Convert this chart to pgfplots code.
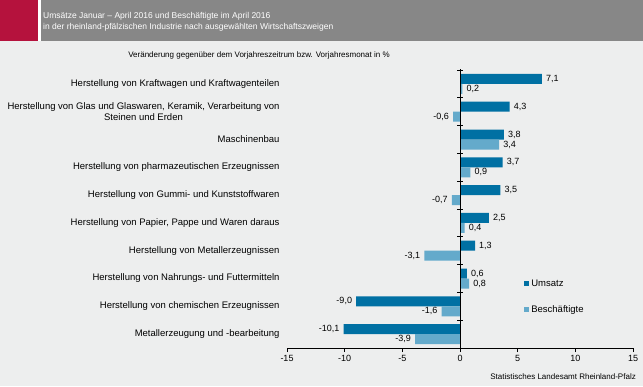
\documentclass[border=0pt]{standalone}
\usepackage{fontspec}
\setmainfont{Liberation Sans}
\usepackage{pgfplots}
\pgfplotsset{compat=1.18}
\definecolor{dblue}{HTML}{0070A3}
\definecolor{lblue}{HTML}{64AACB}
\definecolor{bg}{HTML}{EDEEEE}
\definecolor{hgray}{HTML}{878787}
\definecolor{hred}{HTML}{B5123D}
\begin{document}
\begin{tikzpicture}[x=1bp,y=1bp,font=\fontsize{8bp}{9.6bp}\selectfont]
\useasboundingbox (0,0) rectangle (643,386);
\fill[bg] (0,0) rectangle (643,386);
\fill[white] (38,345) rectangle (41,386);
\fill[hred] (0,345) rectangle (38,386);
\fill[hgray] (41,345) rectangle (643,386);
\node[anchor=base west, text=white, inner sep=0, font=\fontsize{8.5bp}{10bp}\selectfont] at (43,367.5) {Umsätze Januar – April 2016 und Beschäftigte im April 2016};
\node[anchor=base west, text=white, inner sep=0, font=\fontsize{8.5bp}{10bp}\selectfont] at (43,356.5) {in der rheinland-pfälzischen Industrie nach ausgewählten Wirtschaftszweigen};
\node[anchor=base, inner sep=0] at (259,328.5) {Veränderung gegenüber dem Vorjahreszeitrum bzw. Vorjahresmonat in \%};
\node[anchor=base east, inner sep=0, font=\fontsize{8bp}{9bp}\selectfont] at (636,7) {Statistisches Landesamt Rheinland-Pfalz};
\begin{axis}[
  at={(287bp,38bp)}, anchor=south west,
  scale only axis, width=346bp, height=278bp,
  xmin=-15, xmax=15, ymin=-0.5, ymax=9.5,
  axis lines*=left,
  y axis line style={draw=none},
  x axis line style={black, line width=0.8bp},
  xtick={-15,-10,...,15},
  tick align=outside,
  major tick length=4bp,
  xtick style={black, line width=0.8bp},
  ytick={0,...,9},
  ytick style={draw=none},
  yticklabels={Metallerzeugung und -bearbeitung,
    Herstellung von chemischen Erzeugnissen,
    Herstellung von Nahrungs- und Futtermitteln,
    Herstellung von Metallerzeugnissen,
    {Herstellung von Papier, Pappe und Waren daraus},
    Herstellung von Gummi- und Kunststoffwaren,
    Herstellung von pharmazeutischen Erzeugnissen,
    Maschinenbau,
    {Herstellung von Glas und Glaswaren, Keramik, Verarbeitung von\\Steinen und Erden},
    Herstellung von Kraftwagen und Kraftwagenteilen},
  yticklabel style={align=center, font=\fontsize{9.5bp}{11.8bp}\selectfont},
  xticklabel style={font=\fontsize{9bp}{10bp}\selectfont},
  /pgf/number format/assume math mode=true,
  clip=false,
  legend style={draw=none, fill=none, at={(axis cs:5.3,2.11)}, anchor=north west,
    font=\fontsize{9.5bp}{11bp}\selectfont, row sep=14bp},
  legend cell align=left,
  nodes near coords={\pgfmathprintnumber[fixed,fixed zerofill,precision=1,use comma,assume math mode=true]{\pgfplotspointmeta}},
  nodes near coords style={font=\fontsize{9bp}{10bp}\selectfont, text=black, inner sep=4bp},
]
\addplot[xbar, bar width=10bp, bar shift=5bp, fill=dblue, draw=none, point meta=x,
  nodes near coords style={anchor=west, yshift=5bp},
  legend image code/.code={\fill[dblue] (0bp,-2.5bp) rectangle (5bp,2.5bp);}]
  coordinates {(7.1,9) (4.3,8) (3.8,7) (3.7,6) (3.5,5) (2.5,4) (1.3,3) (0.6,2)};
\addlegendentry{Umsatz}
\addplot[xbar, bar width=10bp, bar shift=5bp, fill=dblue, draw=none, point meta=x, forget plot,
  nodes near coords style={anchor=east, yshift=5bp}]
  coordinates {(-9.0,1) (-10.1,0)};
\addplot[xbar, bar width=10bp, bar shift=-5bp, fill=lblue, draw=none, point meta=x,
  nodes near coords style={anchor=west, yshift=-5bp},
  legend image code/.code={\fill[lblue] (0bp,-2.5bp) rectangle (5bp,2.5bp);}]
  coordinates {(0.2,9) (3.4,7) (0.9,6) (0.4,4) (0.8,2)};
\addlegendentry{Beschäftigte}
\addplot[xbar, bar width=10bp, bar shift=-5bp, fill=lblue, draw=none, point meta=x, forget plot,
  nodes near coords style={anchor=east, yshift=-5bp}]
  coordinates {(-0.6,8) (-0.7,5) (-3.1,3) (-1.6,1) (-3.9,0)};
\draw[black, line width=0.8bp] (axis cs:0,-0.5) -- (axis cs:0,9.55);
\pgfplotsinvokeforeach{-0.5,0.5,1.5,2.5,3.5,4.5,5.5,6.5,7.5,8.5,9.5}{
  \draw[black, line width=0.8bp] ([xshift=-3bp]axis cs:0,#1) -- ([xshift=3bp]axis cs:0,#1);
}
\end{axis}
\end{tikzpicture}
\end{document}
